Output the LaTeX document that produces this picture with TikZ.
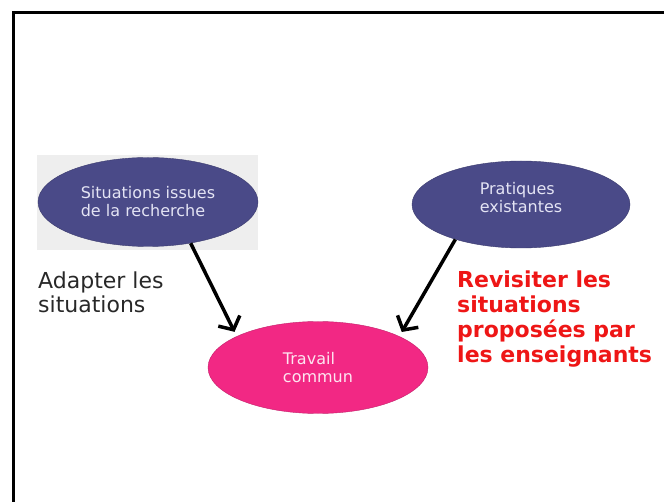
\documentclass[tikz,border=0pt]{standalone}
\usepackage{fontspec}
\setmainfont{DejaVu Sans}
\usepackage{tikz}
\usetikzlibrary{shapes.geometric, arrows.meta, positioning}
\definecolor{myblue}{RGB}{74,74,136}
\definecolor{mypink}{RGB}{242,40,132}
\definecolor{myred}{RGB}{238,22,22}
\definecolor{mygrey}{RGB}{238,238,238}
\definecolor{mytext}{RGB}{40,40,40}
\definecolor{mylight}{RGB}{228,228,244}
\tikzset{
  bulle/.style={ellipse, draw=myblue!80!black, fill=myblue, inner sep=0pt,
    minimum width=220pt, minimum height=89pt, align=left,
    text=mylight, font=\fontsize{16}{18}\selectfont},
  arrow/.style={-{Straight Barb[length=10pt, width=24pt]}, line width=3.5pt,
    color=black, shorten >=5pt},
  note/.style={anchor=north west, inner sep=0pt, align=left}
}

\begin{document}
\begin{tikzpicture}[x=1pt, y=1pt]
  \useasboundingbox (0,0) rectangle (664,501);

  % Frame
  \draw[line width=3.2pt] (13.5,-10) |- (680,488.5);

  % Sources
  \fill[mygrey] (37,251) rectangle (258,346);
  \node[bulle] (sit) at (148,299) {Situations issues\\de la recherche};
  \node[bulle, minimum width=218pt, minimum height=87pt, text depth=14pt]
    (prat) at (521,296.5) {Pratiques\\existantes};

  % Common work
  \node[bulle, draw=mypink!80!black, fill=mypink, text=white!88!mypink,
    minimum height=92pt] (trav) at (318,133.5) {Travail\\commun};

  % Notes
  \node[note, text=mytext, font=\fontsize{22}{24}\selectfont]
    (adapt) at (38,229) {Adapter les\\situations};
  \node[note, text=myred, font=\fontsize{22}{25}\bfseries\selectfont]
    (revis) at (457,230) {Revisiter les\\situations\\proposées par\\les enseignants};

  % Arrows
  \draw[arrow] (sit.316) -- (trav.159);
  \draw[arrow] (prat.208) -- (trav.21);
\end{tikzpicture}
\end{document}
